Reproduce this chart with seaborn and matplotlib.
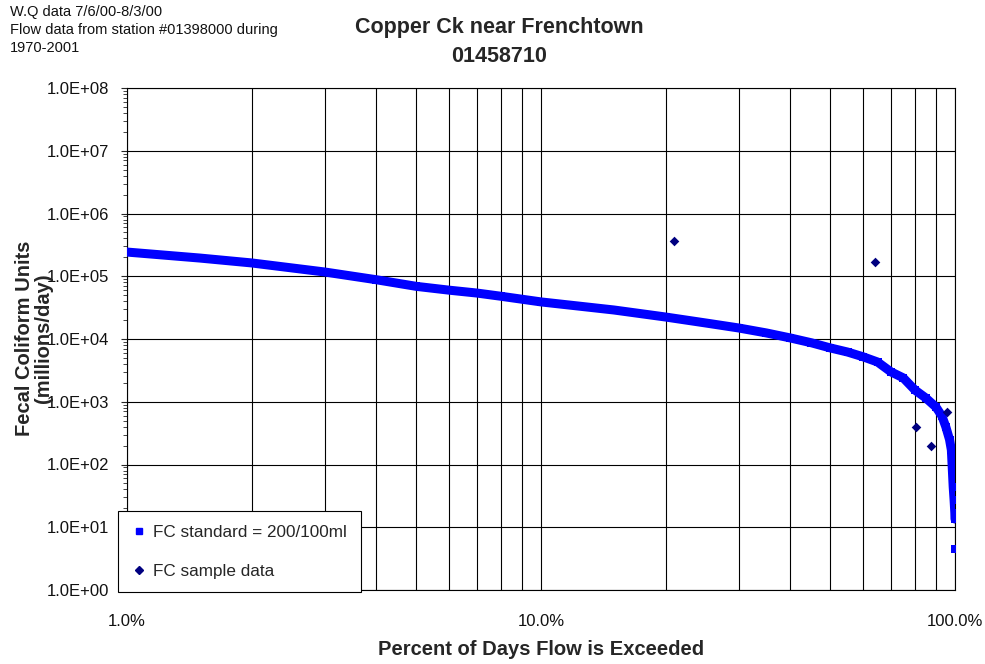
"""Copper Ck near Frenchtown - load duration curve"""

import matplotlib
matplotlib.use('Agg')
import matplotlib.pyplot as plt
from matplotlib.lines import Line2D
from matplotlib.ticker import LogLocator, FuncFormatter, NullFormatter
import pandas as pd
import seaborn as sns

# allowable load curve at FC standard (percent of days exceeded, millions/day)
curve_pct = [1.0, 1.5, 2, 3, 4, 5, 6, 7, 8, 10, 15, 20, 25, 30, 35, 40, 45,
             50, 55, 60, 65, 70, 75, 80, 85, 90, 93, 95, 97, 98, 99, 99.5,
             99.9, 100, 100]
curve_load = [2.43e5, 1.95e5, 1.63e5, 1.17e5, 8.8e4, 6.9e4, 6.0e4, 5.4e4,
              4.8e4, 3.9e4, 2.9e4, 2.24e4, 1.8e4, 1.5e4, 1.25e4, 1.04e4,
              8.7e3, 7.2e3, 6.2e3, 5.2e3, 4.3e3, 3.0e3, 2.4e3, 1.54e3,
              1.15e3, 8.2e2, 5.9e2, 4.0e2, 2.5e2, 1.7e2, 44, 27, 17, 13.5, 4.5]

# measured samples
sample_pct = [20.9, 64.1, 80.5, 87.5, 95.6]
sample_load = [3.6e5, 1.69e5, 398, 197, 687]

curve = pd.DataFrame({'pct': curve_pct, 'load': curve_load})
samples = pd.DataFrame({'pct': sample_pct, 'load': sample_load})

sns.set_style('white')
plt.rcParams['font.family'] = ['Liberation Sans', 'DejaVu Sans']

fig = plt.figure(figsize=(9.85, 6.64), dpi=100)
ax = fig.add_axes([127 / 985, 1 - 590 / 664, 828 / 985, 502 / 664])

blue = '#0000FF'
navy = '#000080'

# thick band of the standard curve (last point is a lone square)
sns.lineplot(data=curve.iloc[:-1], x='pct', y='load', ax=ax, color=blue,
             linewidth=6.5, sort=False, zorder=3)
sns.scatterplot(data=curve, x='pct', y='load', ax=ax, color=blue,
                marker='s', s=34, linewidth=0, zorder=3)
sns.scatterplot(data=samples, x='pct', y='load', ax=ax, color=navy,
                marker='D', s=24, linewidth=0, zorder=4)

ax.set_xscale('log')
ax.set_yscale('log')
ax.set_xlim(1, 100)
ax.set_ylim(1, 1e8)

ax.xaxis.set_major_locator(LogLocator(base=10))
ax.xaxis.set_minor_locator(LogLocator(base=10, subs=range(2, 10)))
ax.xaxis.set_minor_formatter(NullFormatter())
ax.xaxis.set_major_formatter(FuncFormatter(lambda v, _: f'{v:.1f}%'))
ax.yaxis.set_major_locator(LogLocator(base=10, numticks=12))
ax.yaxis.set_minor_locator(LogLocator(base=10, subs=range(2, 10), numticks=12))
ax.yaxis.set_minor_formatter(NullFormatter())
ax.yaxis.set_major_formatter(FuncFormatter(lambda v, _: f'{v:.1E}'))

ax.grid(True, which='both', axis='x', color='black', linewidth=0.8)
ax.grid(True, which='major', axis='y', color='black', linewidth=0.8)
ax.set_axisbelow(True)

ax.tick_params(axis='x', which='both', length=0, pad=17, labelsize=12,
               labelcolor='#111111')
ax.tick_params(axis='y', which='major', direction='out', length=4, width=0.8,
               left=True, pad=9, labelsize=12, labelcolor='#111111')
ax.tick_params(axis='y', which='minor', direction='out', length=3, width=0.6,
               left=True)
for spine in ax.spines.values():
    spine.set_color('black')
    spine.set_linewidth(0.8)

ax.set_xlabel('Percent of Days Flow is Exceeded', fontsize=14.5,
              fontweight='bold', labelpad=8)
ax.set_ylabel('')
fig.text(34 / 985, 1 - 338 / 664, 'Fecal Coliform Units\n(millions/day)',
         rotation=90, ha='center', va='center', fontsize=14.5,
         fontweight='bold', linespacing=1.05)

fig.text(499 / 985, 1 - 42 / 664, 'Copper Ck near Frenchtown\n01458710',
         ha='center', va='center', fontsize=15.5, fontweight='bold',
         linespacing=1.55)
fig.text(10 / 985, 1 - 5 / 664,
         'W.Q data 7/6/00-8/3/00\nFlow data from station #01398000 during\n1970-2001',
         ha='left', va='top', fontsize=10.5, color='#111111',
         linespacing=1.38)

handles = [
    Line2D([], [], linestyle='none', marker='s', markersize=5,
           color=blue, label='FC standard = 200/100ml'),
    Line2D([], [], linestyle='none', marker='D', markersize=4,
           color=navy, label='FC sample data'),
]
leg = ax.legend(handles=handles, loc='upper left',
                bbox_to_anchor=(118 / 985, 1 - 511 / 664),
                bbox_transform=fig.transFigure, borderaxespad=0,
                fontsize=12.3, frameon=True, fancybox=False,
                framealpha=1, edgecolor='black', labelspacing=1.4,
                handlelength=0.8, handletextpad=0.45, borderpad=0.8)
leg.get_frame().set_linewidth(0.8)
leg.set_zorder(10)

fig.savefig('out.png', dpi=100)
